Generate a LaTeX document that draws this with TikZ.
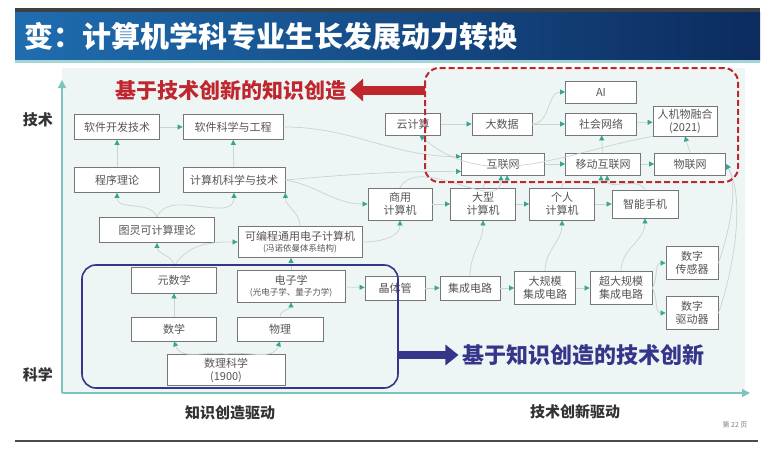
\documentclass[tikz,border=0pt]{standalone}
\usepackage{fontspec}
\setmainfont{Noto Sans CJK SC}
\usepackage{tikz}
\usetikzlibrary{arrows.meta,positioning,calc}
\definecolor{tbl}{HTML}{1F6DB0}
\definecolor{tbr}{HTML}{0C2B5E}
\definecolor{paper}{HTML}{EEF6F5}
\definecolor{axisc}{HTML}{7CC4BD}
\definecolor{boxline}{HTML}{767676}
\definecolor{boxtext}{HTML}{555555}
\definecolor{connc}{HTML}{CBD3D2}
\definecolor{tipc}{HTML}{3AA58F}
\definecolor{redc}{HTML}{C0262D}
\definecolor{navy}{HTML}{35358A}
\newcommand{\sub}[1]{{\fontsize{8.5}{10}\selectfont #1}}

\begin{document}
\begin{tikzpicture}[x=1pt, y=1pt,
    box/.style={draw=boxline, line width=0.8pt, fill=white, inner sep=1pt, align=center, text=boxtext, font=\fontsize{11}{13}\selectfont},
    conn/.style={draw=connc, line width=0.7pt, -{Triangle[length=5pt,width=5pt,color=tipc]}},
    axis/.style={draw=axisc, line width=1.4pt, -{Triangle[length=8pt,width=8pt]}},
    label/.style={font=\bfseries\fontsize{15}{16}\selectfont, text=black!80}]
        \useasboundingbox (0,0) rectangle (772,-458);
        \fill[white] (0,0) rectangle (772,-458);
        \fill[black!75] (15,-8) rectangle (760,-12);
        \shade[left color=tbl, right color=tbr] (15,-12) rectangle (760,-60);
        \fill[axisc!70] (15,-60) rectangle (760,-63);
        \node[anchor=west, text=white, font=\bfseries\fontsize{29}{31}\selectfont] (title) at (21,-36) {变：计算机学科专业生长发展动力转换};
        \fill[paper] (62,-68) rectangle (745,-393);
        \coordinate (orig) at (62,-393);
        \coordinate (ytop) at (62,-80);
        \coordinate (xend) at (750,-393);
        \draw[axis] (orig) -- (ytop);
        \draw[axis] (orig) -- (xend);
        \node[label] (jishu) at (38,-120) {技术};
        \node[label] (kexue) at (38,-375) {科学};
        \node[label] (zsqd) at (230,-413) {知识创造驱动};
        \node[label] (jsqd) at (575,-412) {技术创新驱动};
        \node[text=gray, font=\fontsize{7}{8}\selectfont] (page) at (735,-425) {第 22 页};
        \draw[black!70, line width=2pt] (15,-441) -- (758,-441);

        \node[box, minimum width=85pt, minimum height=25pt] (rjkf) at (117,-127) {软件开发技术};
        \node[box, minimum width=100pt, minimum height=25pt] (rjkx) at (233,-127) {软件科学与工程};
        \node[box, minimum width=85pt, minimum height=25pt] (cxll) at (117,-180) {程序理论};
        \node[box, minimum width=102pt, minimum height=25pt] (jsjk) at (234,-180) {计算机科学与技术};
        \node[box, minimum width=115pt, minimum height=25pt] (tlll) at (157,-230) {图灵可计算理论};
        \node[box, minimum width=124pt, minimum height=31pt] (kbc) at (300,-242) {可编程通用电子计算机\\[-2pt]\sub{(冯诺依曼体系结构)}};
        \node[box, minimum width=85pt, minimum height=26pt] (yss) at (174,-280) {元数学};
        \node[box, minimum width=108pt, minimum height=32pt] (dzx) at (291,-286) {电子学\\[-2pt]\sub{(光电子学、量子力学)}};
        \node[box, minimum width=85pt, minimum height=24pt] (sx) at (174,-329) {数学};
        \node[box, minimum width=86pt, minimum height=24pt] (wl) at (280,-329) {物理};
        \node[box, minimum width=118pt, minimum height=31pt] (slkx) at (226,-370) {数理科学\\(1900)};
        \node[box, minimum width=60pt, minimum height=24pt] (jtg) at (395,-288) {晶体管};
        \node[box, minimum width=60pt, minimum height=24pt] (jcdl) at (470,-288) {集成电路};
        \node[box, minimum width=61pt, minimum height=33pt] (dgm) at (545,-288) {大规模\\集成电路};
        \node[box, minimum width=62pt, minimum height=33pt] (cdgm) at (621,-288) {超大规模\\集成电路};
        \node[box, minimum width=52pt, minimum height=33pt] (szcg) at (692,-263) {数字\\传感器};
        \node[box, minimum width=52pt, minimum height=33pt] (szqd) at (692,-313) {数字\\驱动器};
        \node[box, minimum width=64pt, minimum height=32pt] (syjs) at (400,-204) {商用\\计算机};
        \node[box, minimum width=65pt, minimum height=32pt] (dxjs) at (483,-204) {大型\\计算机};
        \node[box, minimum width=65pt, minimum height=32pt] (grjs) at (562,-204) {个人\\计算机};
        \node[box, minimum width=66pt, minimum height=28pt] (znsj) at (645,-204) {智能手机};
        \node[box, minimum width=55pt, minimum height=22pt] (yjs) at (413,-124) {云计算};
        \node[box, minimum width=60pt, minimum height=22pt] (dsj) at (502,-124) {大数据};
        \node[box, minimum width=71pt, minimum height=22pt] (ai) at (601,-92) {AI};
        \node[box, minimum width=71pt, minimum height=22pt] (shwl) at (601,-124) {社会网络};
        \node[box, minimum width=64pt, minimum height=30pt] (rjw) at (685,-121) {人机物融合\\(2021)};
        \node[box, minimum width=83pt, minimum height=22pt] (hlw) at (503,-164) {互联网};
        \node[box, minimum width=75pt, minimum height=22pt] (ydhl) at (603,-164) {移动互联网};
        \node[box, minimum width=71pt, minimum height=22pt] (wlw) at (690,-164) {物联网};

        \draw[conn] (cxll) -- (rjkf);
        \draw[conn] (rjkf) -- (rjkx);
        \draw[conn] (jsjk) -- (rjkx);
        \draw[conn] (tlll.north) to[out=110,in=-90] (cxll.south);
        \draw[conn] (tlll.north) to[out=70,in=-90] (jsjk.south);
        \draw[conn] (kbc.north) to[out=90,in=-90] (jsjk.south east);
        \draw[conn] (yss.north) to[out=90,in=-90] (tlll.south);
        \draw[conn] (yss.north) to[out=60,in=180] (kbc.west);
        \draw[conn] (dzx.north) -- (dzx.north |- kbc.south);
        \draw[conn] (sx) -- (yss);
        \draw[conn] (wl.north) to[out=90,in=-90] (dzx.south);
        \draw[conn] (slkx.north) to[out=170,in=-70] (sx.south);
        \draw[conn] (slkx.north) to[out=10,in=-110] (wl.south);
        \draw[conn] (dzx) -- (jtg);
        \draw[conn] (jtg) -- (jcdl);
        \draw[conn] (jcdl) -- (dgm);
        \draw[conn] (dgm) -- (cdgm);
        \draw[conn] (cdgm.east) to[out=60,in=180] (szcg.west);
        \draw[conn] (cdgm.east) to[out=-60,in=180] (szqd.west);
        \draw[conn] (jcdl.north) to[out=90,in=-90] (dxjs.south);
        \draw[conn] (dgm.north) to[out=90,in=-90] (grjs.south);
        \draw[conn] (cdgm.north) to[out=90,in=-90] (znsj.south);
        \draw[conn] (kbc.east) to[out=0,in=-90] (syjs.south);
        \draw[conn] (jsjk.east) to[out=-10,in=180] (syjs.west);
        \draw[conn] (syjs) -- (dxjs);
        \draw[conn] (dxjs) -- (grjs);
        \draw[conn] (grjs) -- (znsj);
        \draw[conn] (rjkx.east) to[out=0,in=180] (hlw.170);
        \draw[conn] (jsjk.east) to[out=5,in=180] (hlw.190);
        \draw[conn] (yjs) -- (dsj);
        \draw[conn] (dsj) -- (shwl);
        \draw[conn] (dsj.east) to[out=0,in=180] (ai.west);
        \draw[conn] (shwl) -- (rjw);
        \draw[conn] (ydhl) -- (shwl);
        \draw[conn] (wlw.north) -- (rjw.south);
        \draw[conn] (hlw) -- (ydhl);
        \draw[conn] (ydhl) -- (wlw);
        \draw[conn] (syjs.north) to[out=60,in=-90] (hlw.260);
        \draw[conn] (dxjs.north) to[out=90,in=-90] (hlw.290);
        \draw[conn] (grjs.north) to[out=90,in=-90] (ydhl.260);
        \draw[conn] (znsj.north) to[out=120,in=-90] (ydhl.290);
        \draw[conn] (szcg.east) to[out=70,in=-60,looseness=0.7] (wlw.east);
        \draw[conn] (szqd.east) to[out=70,in=-60,looseness=0.7] (wlw.east);
        \draw[conn] (rjw.south west) to[out=190,in=-40] (yjs.-60);

        \draw[redc, line width=2pt, dash pattern=on 6pt off 3pt, rounded corners=14pt] (425,-68) rectangle (738,-182);
        \draw[navy, line width=1.6pt, rounded corners=14pt] (82,-265) rectangle (398,-388);
        \node[text=redc, font=\bfseries\fontsize{21}{23}\selectfont] (redt) at (231,-90) {基于技术创新的知识创造};
        \coordinate (redl) at (425,-90);
        \draw[redc, line width=9pt, -{Triangle[length=13pt,width=22pt]}] (redl) -- (redt.east);
        \node[text=navy, font=\bfseries\fontsize{22}{24}\selectfont] (bluet) at (583,-355) {基于知识创造的技术创新};
        \coordinate (bluer) at (398,-355);
        \draw[navy, line width=8pt, -{Triangle[length=13pt,width=20pt]}] (bluer) -- (bluet.west);
    \end{tikzpicture}
\end{document}
